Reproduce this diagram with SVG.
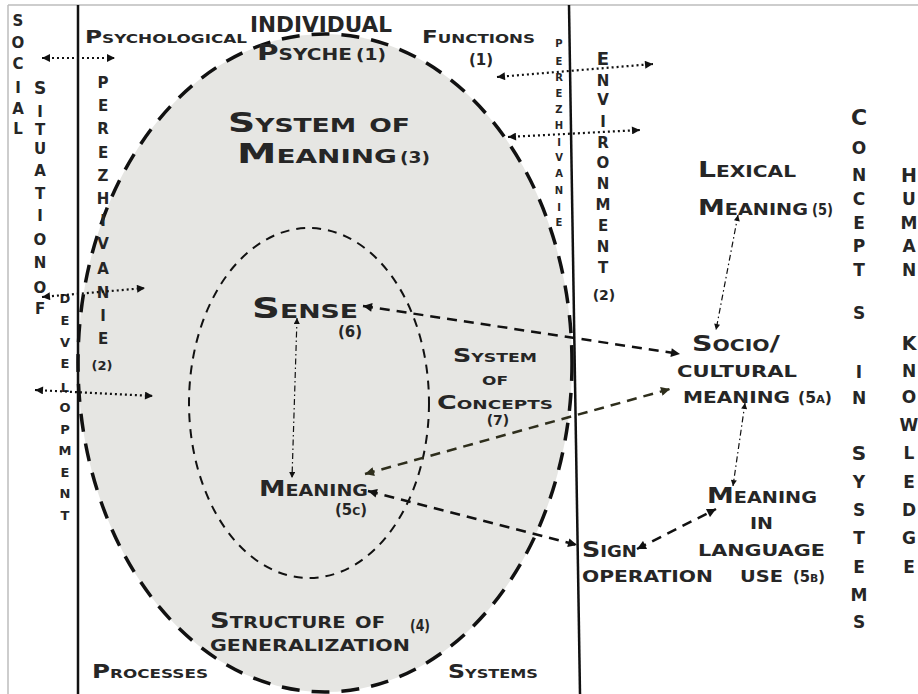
<svg xmlns="http://www.w3.org/2000/svg" width="918" height="694" viewBox="0 0 918 694">
<style>
.t{font-family:"DejaVu Sans","Liberation Sans",sans-serif;font-weight:bold;fill:#262626;font-variant:small-caps}
.v{font-family:"DejaVu Sans","Liberation Sans",sans-serif;font-weight:bold;fill:#262626;text-anchor:middle}
.num{font-family:"DejaVu Sans","Liberation Sans",sans-serif;font-weight:bold;fill:#262626;font-variant:small-caps}
.dot{fill:none;stroke:#111;stroke-width:2.2;stroke-dasharray:2 3}
.dash{fill:none;stroke:#111;stroke-width:2.5;stroke-dasharray:10 7}
.olive{fill:none;stroke:#2e2e1c;stroke-width:2.5;stroke-dasharray:10 7}
.dd{fill:none;stroke:#111;stroke-width:1.2;stroke-dasharray:6 3 1.5 3}
</style>
<defs>
<marker id="mDot" viewBox="0 0 10 10" refX="10" refY="5" markerUnits="userSpaceOnUse" markerWidth="9" markerHeight="8" orient="auto-start-reverse"><path d="M0,0 L10,5 L0,10 z" fill="#111"/></marker>
<marker id="mDash" viewBox="0 0 10 10" refX="10" refY="5" markerUnits="userSpaceOnUse" markerWidth="12" markerHeight="9" orient="auto-start-reverse"><path d="M0,0 L10,5 L0,10 z" fill="#111"/></marker>
<marker id="mOlive" viewBox="0 0 10 10" refX="10" refY="5" markerUnits="userSpaceOnUse" markerWidth="12" markerHeight="9" orient="auto-start-reverse"><path d="M0,0 L10,5 L0,10 z" fill="#2e2e1c"/></marker>
<marker id="mThin" viewBox="0 0 10 10" refX="10" refY="5" markerUnits="userSpaceOnUse" markerWidth="8" markerHeight="6" orient="auto-start-reverse"><path d="M0,0 L10,5 L0,10 z" fill="#111"/></marker>
</defs>
<rect x="0" y="0" width="918" height="694" fill="#fff"/>
<g id="frame">
<line x1="8" y1="5" x2="918" y2="5" stroke="#bdbdbd" stroke-width="1.5"/>
<line x1="8" y1="5" x2="8" y2="694" stroke="#bdbdbd" stroke-width="1.5"/>
</g>
<g id="outer-ellipse">
<ellipse cx="325" cy="363" rx="247" ry="329" fill="#e6e6e3" stroke="#111" stroke-width="3.5" stroke-dasharray="18 12"/>
</g>
<g id="inner-ellipse">
<ellipse cx="309" cy="403" rx="120" ry="175" fill="none" stroke="#111" stroke-width="2" stroke-dasharray="9 7"/>
</g>
<g id="dividers">
<line x1="78" y1="5" x2="78" y2="694" stroke="#111" stroke-width="2.5"/>
<line x1="569" y1="5" x2="580" y2="694" stroke="#111" stroke-width="2.5"/>
</g>

<g id="social">
<text class="v" font-size="15"><tspan x="18" y="26">S</tspan><tspan x="18" y="48">O</tspan><tspan x="18" y="69">C</tspan><tspan x="18" y="93">I</tspan><tspan x="18" y="114">A</tspan><tspan x="18" y="134">L</tspan></text>
</g>
<g id="situation-of">
<text class="v" font-size="15"><tspan x="40" y="94" font-size="17">S</tspan><tspan x="40" y="117">I</tspan><tspan x="40" y="135">T</tspan><tspan x="40" y="154">U</tspan><tspan x="40" y="176">A</tspan><tspan x="40" y="199">T</tspan><tspan x="40" y="221">I</tspan><tspan x="40" y="245">O</tspan><tspan x="40" y="268">N</tspan><tspan x="40" y="293">O</tspan><tspan x="40" y="314">F</tspan></text>
</g>
<g id="development">
<text class="v" font-size="13"><tspan x="65" y="303">D</tspan><tspan x="65" y="325">E</tspan><tspan x="65" y="347">V</tspan><tspan x="65" y="368">E</tspan><tspan x="65" y="392">L</tspan><tspan x="65" y="412">O</tspan><tspan x="65" y="434">P</tspan><tspan x="65" y="455">M</tspan><tspan x="65" y="477">E</tspan><tspan x="65" y="498">N</tspan><tspan x="65" y="520">T</tspan></text>
</g>
<g id="perezhivanie-left">
<text class="v" font-size="15"><tspan x="103" y="88">P</tspan><tspan x="103" y="111">E</tspan><tspan x="103" y="134">R</tspan><tspan x="103" y="158">E</tspan><tspan x="103" y="181">Z</tspan><tspan x="103" y="204">H</tspan><tspan x="103" y="226">I</tspan><tspan x="103" y="249">V</tspan><tspan x="103" y="274">A</tspan><tspan x="103" y="298">N</tspan><tspan x="103" y="321">I</tspan><tspan x="103" y="344">E</tspan><tspan x="102" y="370" font-size="13">(2)</tspan></text>
</g>
<g id="perezhivanie-right">
<text class="v" font-size="10"><tspan x="559" y="47">P</tspan><tspan x="559" y="65">E</tspan><tspan x="559" y="81">R</tspan><tspan x="559" y="97">E</tspan><tspan x="559" y="113">Z</tspan><tspan x="559" y="129">H</tspan><tspan x="559" y="146">I</tspan><tspan x="559" y="161">V</tspan><tspan x="559" y="177">A</tspan><tspan x="559" y="194">N</tspan><tspan x="559" y="211">I</tspan><tspan x="559" y="226">E</tspan></text>
</g>
<g id="environment">
<text class="v" font-size="15"><tspan x="603" y="65" font-size="18">E</tspan><tspan x="603" y="86">N</tspan><tspan x="603" y="105">V</tspan><tspan x="603" y="127">I</tspan><tspan x="603" y="148">R</tspan><tspan x="603" y="168">O</tspan><tspan x="603" y="189">N</tspan><tspan x="603" y="210">M</tspan><tspan x="603" y="231">E</tspan><tspan x="603" y="252">N</tspan><tspan x="603" y="273">T</tspan><tspan x="604" y="300" font-size="14">(2)</tspan></text>
</g>
<g id="concepts-in-systems">
<text class="v" font-size="17"><tspan x="859" y="125" font-size="22">C</tspan><tspan x="859" y="154">O</tspan><tspan x="859" y="181">N</tspan><tspan x="859" y="205">C</tspan><tspan x="859" y="229">E</tspan><tspan x="859" y="252">P</tspan><tspan x="859" y="276">T</tspan><tspan x="859" y="319">S</tspan><tspan x="859" y="378">I</tspan><tspan x="859" y="404">N</tspan><tspan x="859" y="460" font-size="20">S</tspan><tspan x="859" y="488">Y</tspan><tspan x="859" y="516">S</tspan><tspan x="859" y="544">T</tspan><tspan x="859" y="573">E</tspan><tspan x="859" y="601">M</tspan><tspan x="859" y="628">S</tspan></text>
</g>
<g id="human-knowledge">
<text class="v" font-size="17"><tspan x="909" y="182" font-size="19">H</tspan><tspan x="909" y="205">U</tspan><tspan x="909" y="229">M</tspan><tspan x="909" y="252">A</tspan><tspan x="909" y="276">N</tspan><tspan x="909" y="350" font-size="19">K</tspan><tspan x="909" y="377">N</tspan><tspan x="909" y="403">O</tspan><tspan x="909" y="431">W</tspan><tspan x="909" y="459">L</tspan><tspan x="909" y="488">E</tspan><tspan x="909" y="516">D</tspan><tspan x="909" y="544">G</tspan><tspan x="909" y="573">E</tspan></text>
</g>

<g id="psychological-functions">
<text class="t" x="85" y="43" font-size="18" textLength="162" lengthAdjust="spacingAndGlyphs">Psychological</text>
<text class="t" x="422" y="43" font-size="18" textLength="113" lengthAdjust="spacingAndGlyphs">Functions</text>
<text class="num" x="481" y="65" font-size="15" text-anchor="middle">(1)</text>
</g>
<g id="individual-psyche">
<text class="t" x="250" y="32" font-size="22" textLength="142" lengthAdjust="spacingAndGlyphs">INDIVIDUAL</text>
<text class="t" x="257" y="60" font-size="22" textLength="95" lengthAdjust="spacingAndGlyphs">Psyche</text>
<text class="num" x="356" y="60" font-size="15" textLength="30" lengthAdjust="spacingAndGlyphs">(1)</text>
</g>
<g id="system-of-meaning">
<text class="t" x="228" y="132" font-size="27" textLength="182" lengthAdjust="spacingAndGlyphs">System of</text>
<text class="t" x="237" y="163" font-size="27" textLength="160" lengthAdjust="spacingAndGlyphs">Meaning</text>
<text class="num" x="400" y="163" font-size="15" textLength="30" lengthAdjust="spacingAndGlyphs">(3)</text>
</g>
<g id="lexical-meaning">
<text class="t" x="698" y="177" font-size="21" textLength="98" lengthAdjust="spacingAndGlyphs">Lexical</text>
<text class="t" x="698" y="215" font-size="21" textLength="110" lengthAdjust="spacingAndGlyphs">Meaning</text>
<text class="num" x="812" y="215" font-size="15" textLength="21" lengthAdjust="spacingAndGlyphs">(5)</text>
</g>
<g id="sense">
<text class="t" x="252" y="318" font-size="29" textLength="106" lengthAdjust="spacingAndGlyphs">Sense</text>
<text class="num" x="350" y="337" font-size="15" text-anchor="middle">(6)</text>
</g>
<g id="system-of-concepts">
<text class="t" x="453" y="362" font-size="19" textLength="84" lengthAdjust="spacingAndGlyphs">System</text>
<text class="t" x="482" y="385" font-size="19" textLength="26" lengthAdjust="spacingAndGlyphs">of</text>
<text class="t" x="437" y="409" font-size="19" textLength="116" lengthAdjust="spacingAndGlyphs">Concepts</text>
<text class="num" x="498" y="425" font-size="14" text-anchor="middle">(7)</text>
</g>
<g id="meaning-5c">
<text class="t" x="259" y="496" font-size="21" textLength="109" lengthAdjust="spacingAndGlyphs">Meaning</text>
<text class="num" x="335" y="515" font-size="15" textLength="32" lengthAdjust="spacingAndGlyphs">(5c)</text>
</g>
<g id="socio-cultural-meaning">
<text class="t" x="692" y="351" font-size="21" textLength="88" lengthAdjust="spacingAndGlyphs">Socio/</text>
<text class="t" x="677" y="377" font-size="21" textLength="120" lengthAdjust="spacingAndGlyphs">cultural</text>
<text class="t" x="683" y="403" font-size="21" textLength="107" lengthAdjust="spacingAndGlyphs">meaning</text>
<text class="num" x="798" y="403" font-size="15" textLength="34" lengthAdjust="spacingAndGlyphs">(5a)</text>
</g>
<g id="meaning-in-language-use">
<text class="t" x="707" y="503" font-size="21" textLength="110" lengthAdjust="spacingAndGlyphs">Meaning</text>
<text class="t" x="750" y="529" font-size="21" textLength="23" lengthAdjust="spacingAndGlyphs">in</text>
<text class="t" x="698" y="556" font-size="21" textLength="127" lengthAdjust="spacingAndGlyphs">language</text>
<text class="t" x="740" y="582" font-size="21" textLength="43" lengthAdjust="spacingAndGlyphs">use</text>
<text class="num" x="793" y="582" font-size="15" textLength="32" lengthAdjust="spacingAndGlyphs">(5b)</text>
</g>
<g id="sign-operation">
<text class="t" x="582" y="557" font-size="21" textLength="55" lengthAdjust="spacingAndGlyphs">Sign</text>
<text class="t" x="582" y="582" font-size="21" textLength="131" lengthAdjust="spacingAndGlyphs">operation</text>
</g>
<g id="structure-of-generalization">
<text class="t" x="210" y="628" font-size="21" textLength="175" lengthAdjust="spacingAndGlyphs">Structure of</text>
<text class="num" x="410" y="631" font-size="15" textLength="20" lengthAdjust="spacingAndGlyphs">(4)</text>
<text class="t" x="210" y="651" font-size="21" textLength="200" lengthAdjust="spacingAndGlyphs">generalization</text>
</g>
<g id="processes">
<text class="t" x="92" y="678" font-size="19" textLength="116" lengthAdjust="spacingAndGlyphs">Processes</text>
</g>
<g id="systems">
<text class="t" x="448" y="678" font-size="19" textLength="90" lengthAdjust="spacingAndGlyphs">Systems</text>
</g>

<g id="connectors">
<line class="dot" x1="42" y1="58" x2="115" y2="58" marker-start="url(#mDot)" marker-end="url(#mDot)"/>
<line class="dot" x1="497" y1="77" x2="653" y2="64" marker-start="url(#mDot)" marker-end="url(#mDot)"/>
<line class="dot" x1="508" y1="137" x2="640" y2="130" marker-start="url(#mDot)" marker-end="url(#mDot)"/>
<line class="dot" x1="42" y1="297" x2="145" y2="288" marker-start="url(#mDot)" marker-end="url(#mDot)"/>
<line class="dot" x1="35" y1="390" x2="153" y2="396" marker-start="url(#mDot)" marker-end="url(#mDot)"/>
<line class="dash" x1="363" y1="306" x2="680" y2="354" marker-start="url(#mDash)" marker-end="url(#mDash)"/>
<line class="olive" x1="365" y1="474" x2="670" y2="389" marker-start="url(#mOlive)" marker-end="url(#mOlive)"/>
<line class="dash" x1="368" y1="491" x2="577" y2="545" marker-start="url(#mDash)" marker-end="url(#mDash)"/>
<line class="dash" x1="637" y1="549" x2="716" y2="509" marker-start="url(#mDash)" marker-end="url(#mDash)"/>
<line class="dd" x1="297" y1="318" x2="292" y2="478" marker-start="url(#mThin)" marker-end="url(#mThin)"/>
<line class="dd" x1="738" y1="215" x2="716" y2="330" marker-start="url(#mThin)" marker-end="url(#mThin)"/>
<line class="dd" x1="745" y1="403" x2="733" y2="486" marker-start="url(#mThin)" marker-end="url(#mThin)"/>
</g>
</svg>
